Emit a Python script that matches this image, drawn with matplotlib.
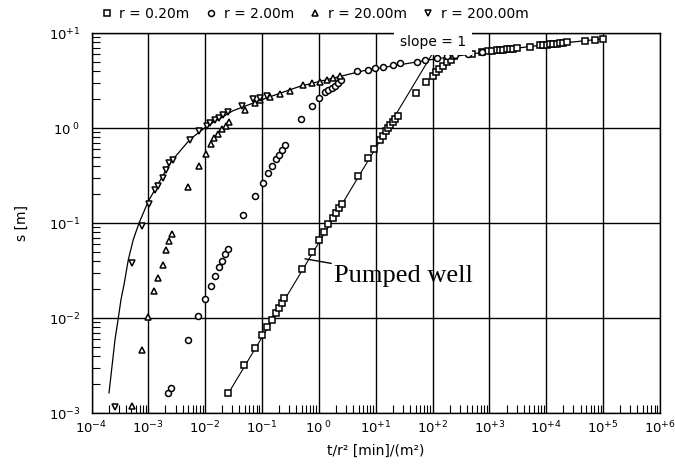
import numpy as np
import matplotlib.pyplot as plt
from matplotlib.ticker import LogLocator, NullFormatter, FixedLocator, FixedFormatter

# r = 0.20 m (pumped well)
t_r020 = [0.0255, 0.0487, 0.0752, 0.101, 0.124, 0.148, 0.174, 0.199, 0.222, 0.246,
          0.498, 0.747, 1.0, 1.24, 1.46, 1.79, 2.0, 2.26, 2.52, 4.87, 7.4, 9.4, 11.9,
          13.6, 15.1, 16.6, 17.8, 19.9, 21.8, 25.0, 51.0, 76.5, 100, 115, 131, 154, 177,
          211, 241, 488, 731, 955, 1100, 1360, 1560, 1740, 2000, 2300, 2600, 3000,
          5160, 7740, 8900, 10300, 11700, 13300, 15300, 17700, 20000, 22900, 48000,
          72000, 100700]
s_r020 = [0.00161, 0.00324, 0.00486, 0.00655, 0.00808, 0.00964, 0.0113, 0.0128, 0.0144, 0.0163,
          0.0329, 0.0492, 0.0658, 0.0805, 0.098, 0.113, 0.128, 0.144, 0.159, 0.315, 0.484, 0.605, 0.741,
          0.83, 0.92, 1.0, 1.08, 1.17, 1.24, 1.35, 2.33, 3.05, 3.57, 3.88, 4.17, 4.52, 4.9,
          5.22, 5.66, 6.0, 6.3, 6.39, 6.45, 6.58, 6.62, 6.66, 6.74, 6.82, 6.86, 6.92,
          7.21, 7.39, 7.45, 7.52, 7.58, 7.64, 7.7, 7.78, 7.85, 8.02, 8.28,
          8.48, 8.69]

# r = 2.00 m
t_r2 = [0.00224, 0.0025, 0.00504, 0.00757, 0.0099, 0.0125, 0.0149, 0.0175, 0.02, 0.0223, 0.0249,
        0.0468, 0.0751, 0.102, 0.126, 0.148, 0.176, 0.201, 0.222, 0.253,
        0.484, 0.747, 1.0, 1.28, 1.46, 1.68, 1.92, 2.19, 2.42,
        4.62, 7.4, 9.7, 13.6, 20.4, 26.7, 52.5, 73.5, 118, 177, 248, 425, 731]
s_r2 = [0.00163, 0.00185, 0.00584, 0.0106, 0.016, 0.0216, 0.028, 0.0342, 0.0403, 0.0473, 0.0534,
        0.122, 0.194, 0.264, 0.336, 0.401, 0.472, 0.524, 0.581, 0.667,
        1.24, 1.69, 2.07, 2.37, 2.49, 2.63, 2.78, 2.97, 3.17,
        3.94, 4.1, 4.27, 4.44, 4.63, 4.82, 5.01, 5.23, 5.45, 5.66, 5.9, 6.04, 6.3]

# r = 20.00 m
t_r20 = [0.000509, 0.000764, 0.000998, 0.00127, 0.0015, 0.00179, 0.00204, 0.00231, 0.00257,
         0.00505, 0.00778, 0.0103, 0.0126, 0.0145, 0.017, 0.02, 0.023, 0.0262,
         0.0501, 0.0752, 0.092, 0.138, 0.207, 0.31, 0.532, 0.747, 1.04, 1.37, 1.79, 2.35]
s_r20 = [0.00118, 0.00459, 0.0103, 0.0191, 0.0265, 0.0365, 0.0516, 0.0642, 0.0774,
         0.24, 0.402, 0.537, 0.684, 0.785, 0.871, 0.976, 1.06, 1.15,
         1.56, 1.83, 1.98, 2.13, 2.29, 2.47, 2.85, 2.97, 3.02, 3.22, 3.35, 3.55]

# r = 200.00 m
t_r200 = [0.000259, 0.000509, 0.000764, 0.00103, 0.00131, 0.0015, 0.00183, 0.00204, 0.00231,
          0.00275, 0.0054, 0.00787, 0.0106, 0.0121, 0.0149, 0.0175, 0.0208, 0.0255,
          0.0438, 0.0701, 0.092, 0.122]
s_r200 = [0.00116, 0.038, 0.0923, 0.16, 0.225, 0.247, 0.298, 0.364, 0.428,
          0.464, 0.741, 0.937, 1.06, 1.13, 1.2, 1.27, 1.38, 1.46,
          1.72, 2.02, 2.08, 2.19]

# type curve drawn through the data
theis_t = [0.000203, 0.000259, 0.000296, 0.00033, 0.000373, 0.000444, 0.000543, 0.000685,
           0.001, 0.0015, 0.0024, 0.0054, 0.0108, 0.0308, 0.122, 0.465, 1.77, 5.97,
           90, 679, 5160, 99400]
theis_s = [0.00163, 0.00594, 0.01, 0.0157, 0.0225, 0.0412, 0.067, 0.1,
           0.17, 0.26, 0.43, 0.76, 1.05, 1.52, 2.08, 2.75, 3.35, 4.0,
           5.23, 6.19, 7.21, 8.69]

# slope = 1 line
slope_t = [0.0255, 96.4]
slope_s = [0.00161, 5.9]

xticks = [1e-4, 1e-3, 1e-2, 1e-1, 1e0, 1e1, 1e2, 1e3, 1e4, 1e5, 1e6]
xlabels = ['$10^{-4}$', '$10^{-3}$', '$10^{-2}$', '$10^{-1}$', '$10^{\\ 0}$', '$10^{+1}$',
           '$10^{+2}$', '$10^{+3}$', '$10^{+4}$', '$10^{+5}$', '$10^{+6}$']
yticks = [1e-3, 1e-2, 1e-1, 1e0, 1e1]
ylabels = ['$10^{-3}$', '$10^{-2}$', '$10^{-1}$', '$10^{\\ 0}$', '$10^{+1}$']

fig = plt.figure(figsize=(6.75, 4.67), dpi=100)
ax = fig.add_axes([0.1356, 0.1156, 0.8422, 0.8137])
ax.set_xscale('log')
ax.set_yscale('log')
ax.set_xlim(1e-4, 1e6)
ax.set_ylim(1e-3, 1e1)

ax.plot(theis_t, theis_s, color='black', lw=0.9, zorder=3)
ax.plot(slope_t, slope_s, color='black', lw=0.8, zorder=3)

mk = dict(ls='none', mfc='white', mec='black', mew=1.1, zorder=4)
h1, = ax.plot(t_r020, s_r020, marker='s', ms=4.0, label='r = 0.20m', **mk)
h2, = ax.plot(t_r2, s_r2, marker='o', ms=4.3, label='r = 2.00m', **mk)
h3, = ax.plot(t_r20, s_r20, marker='^', ms=5, label='r = 20.00m', **mk)
h4, = ax.plot(t_r200, s_r200, marker='v', ms=5, label='r = 200.00m', **mk)

ax.grid(True, which='major', color='black', lw=1.0)
ax.set_axisbelow(True)

ax.xaxis.set_major_locator(FixedLocator(xticks))
ax.xaxis.set_major_formatter(FixedFormatter(xlabels))
ax.yaxis.set_major_locator(FixedLocator(yticks))
ax.yaxis.set_major_formatter(FixedFormatter(ylabels))
ax.xaxis.set_minor_locator(LogLocator(base=10, subs=np.arange(2, 10), numticks=100))
ax.yaxis.set_minor_locator(LogLocator(base=10, subs=np.arange(2, 10), numticks=100))
ax.xaxis.set_minor_formatter(NullFormatter())
ax.yaxis.set_minor_formatter(NullFormatter())
ax.tick_params(which='major', length=0, labelsize=9.5)
ax.tick_params(axis='x', which='major', pad=5)
ax.tick_params(axis='y', which='major', pad=8)
ax.tick_params(which='minor', direction='in', length=6, width=0.8)
for sp in ax.spines.values():
    sp.set_linewidth(1.0)

ax.set_xlabel('t/r² [min]/(m²)', fontsize=10, labelpad=5)
ax.set_ylabel('s [m]', fontsize=10, labelpad=14)

ax.legend(handles=[h1, h2, h3, h4], loc='center left', bbox_to_anchor=(0.017, 1.05),
          ncol=4, frameon=False, fontsize=10, handlelength=0.8, handletextpad=0.5,
          columnspacing=1.15, borderpad=0, borderaxespad=0)

ax.text(101, 8.1, 'slope = 1', fontsize=10, ha='center', va='center', zorder=5,
        bbox=dict(facecolor='white', edgecolor='none', pad=4.5))

ax.annotate('Pumped well', xy=(0.569, 0.042), xytext=(1.84, 0.0277),
            fontsize=19, family='Liberation Serif', va='center', ha='left',
            arrowprops=dict(arrowstyle='-', color='black', lw=1.0, shrinkA=0, shrinkB=0))

fig.savefig('out.png', dpi=100)
